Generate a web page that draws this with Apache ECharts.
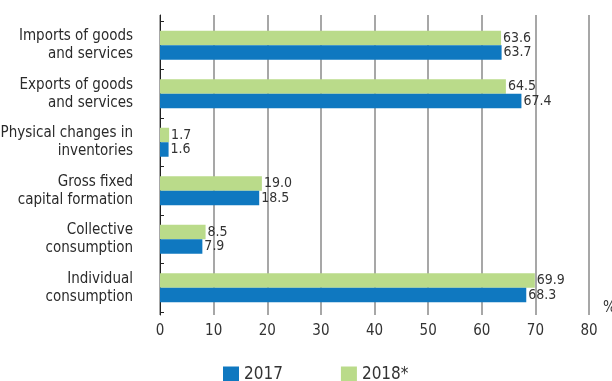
<!DOCTYPE html>
<html><head><meta charset="utf-8">
<script src="https://cdn.jsdelivr.net/npm/echarts@6/dist/echarts.min.js"></script>
<style>html,body{margin:0;padding:0;background:#fff}#c{width:612px;height:381px}</style>
</head><body><div id="c"></div>
<script>
const categories = [
  "Individual\nconsumption",
  "Collective\nconsumption",
  "Gross fixed\ncapital formation",
  "Physical changes in\ninventories",
  "Exports of goods\nand services",
  "Imports of goods\nand services"
];
const values2017 = [68.3, 7.9, 18.5, 1.6, 67.4, 63.7];
const values2018 = [69.9, 8.5, 19.0, 1.7, 64.5, 63.6];
const xTicks = [0, 10, 20, 30, 40, 50, 60, 70, 80];
const seriesNames = ["2017", "2018*"];

const FONT = '"Liberation Sans Narrow","DejaVu Sans Condensed","Open Sans",sans-serif';
const chart = echarts.init(document.getElementById('c'), null, {renderer: 'canvas'});
const lbl = {show: true, position: 'right', distance: 2, fontFamily: FONT, fontSize: 14, color: '#333',
  formatter: p => p.value.toFixed(1)};
chart.setOption({
  animation: false,
  textStyle: {fontFamily: FONT},
  title: {text: '%', left: 598, top: 296, textStyle: {fontFamily: FONT, fontSize: 15, fontWeight: 'normal', color: '#333'}},
  legend: {
    left: 218, top: 361, itemWidth: 16, itemHeight: 16, itemGap: 58,
    icon: 'rect',
    textStyle: {fontFamily: FONT, fontSize: 17, color: '#333', padding: [2, 0, 0, 0]},
    data: seriesNames
  },
  grid: [
    {left: 160, right: 23, top: 15, bottom: 66, outerBoundsMode: 'none', containLabel: false},
    {left: 160, right: 23, top: 21, bottom: 69, outerBoundsMode: 'none', containLabel: false}
  ],
  xAxis: [
    {gridIndex: 0, type: 'value', min: xTicks[0], max: xTicks[xTicks.length - 1], interval: 10,
     axisLine: {show: false}, axisTick: {show: false},
     splitLine: {show: true, lineStyle: {color: '#8a8a8a', width: 1.5}},
     axisLabel: {margin: 9, fontFamily: FONT, fontSize: 15, color: '#333'}},
    {gridIndex: 1, type: 'value', min: 0, max: 80, show: false}
  ],
  yAxis: [
    {gridIndex: 0, type: 'value', min: 0, max: 1, axisLabel: {show: false}, splitLine: {show: false},
     axisTick: {show: false}, axisLine: {show: true, lineStyle: {color: '#222', width: 1}}},
    {gridIndex: 1, type: 'category', data: categories,
     axisLine: {show: false},
     axisTick: {show: true, inside: true, length: 4, lineStyle: {color: '#222'}},
     axisLabel: {margin: 27, fontFamily: FONT, fontSize: 15, lineHeight: 18, color: '#2a2a2a', align: 'right'}}
  ],
  series: [
    {name: seriesNames[1], type: 'bar', xAxisIndex: 1, yAxisIndex: 1, data: values2018,
     barWidth: 14.5, barGap: '0%', itemStyle: {color: '#badb8a'}, label: lbl},
    {name: seriesNames[0], type: 'bar', xAxisIndex: 1, yAxisIndex: 1, data: values2017,
     barWidth: 14.5, barGap: '0%', itemStyle: {color: '#0f78c0'}, label: lbl}
  ]
});
</script></body></html>
